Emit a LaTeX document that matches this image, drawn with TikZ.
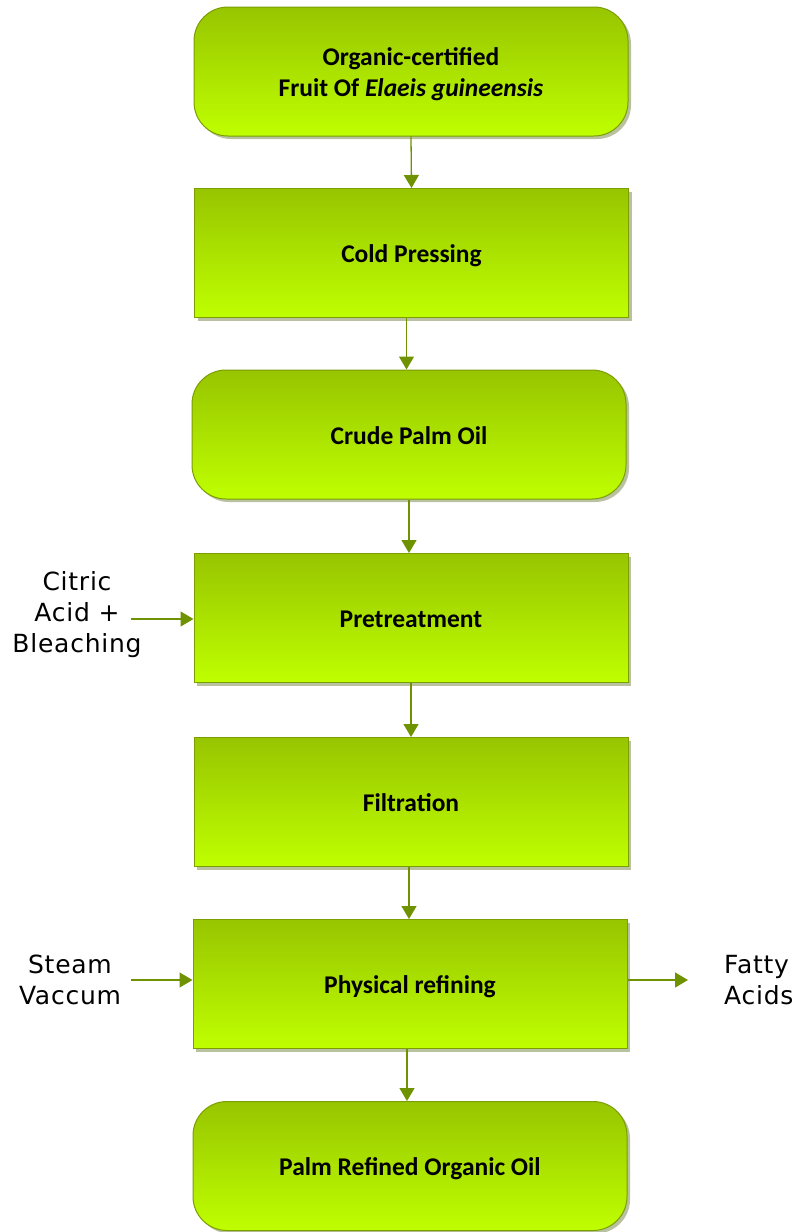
\documentclass[tikz,border=0pt]{standalone}
\usepackage{fontspec}
\setmainfont{Carlito}
\newfontfamily\lblfont[LetterSpace=3]{DejaVu Sans}
\usetikzlibrary{arrows.meta,shadows}
\definecolor{boxtop}{HTML}{97C500}
\definecolor{boxbot}{HTML}{BFFF00}
\definecolor{boxline}{HTML}{7C9E00}
\definecolor{arrowc}{HTML}{6F9300}
\definecolor{shadowc}{HTML}{9AA878}
\newcommand{\dn}[1]{\raisebox{-3.5pt}[\height][\depth]{\begin{tabular}{@{}c@{}}#1\end{tabular}}}
\tikzset{
  base/.style={draw=boxline, line width=1pt, top color=boxtop, bottom color=boxbot,
    minimum width=434pt, minimum height=129pt, align=center,
    font=\fontsize{25.5}{31}\selectfont\bfseries,
    drop shadow={shadow xshift=3pt, shadow yshift=-3pt, fill=shadowc, opacity=0.7}},
  rbox/.style={base, rounded corners=34pt},
  sbox/.style={base},
  conn/.style={draw=arrowc, line width=1.3pt, -{Triangle[width=15pt,length=13pt,fill=arrowc]}},
  lbl/.style={font=\lblfont\fontsize{25}{31}\selectfont, align=center, inner sep=0pt},
}
\begin{document}
\begin{tikzpicture}[x=1pt,y=-1pt]
\useasboundingbox[fill=white] (0,0) rectangle (799,1232);
\node[rbox] (b1) at (411,71.5) {\dn{Organic-certified\\Fruit Of \textit{Elaeis guineensis}}};
\node[sbox] (b2) at (411.5,253) {\dn{Cold Pressing}};
\node[rbox] (b3) at (409,434.5) {\dn{Crude Palm Oil}};
\node[sbox] (b4) at (411,618) {\dn{Pretreatment}};
\node[sbox] (b5) at (411,802) {\dn{Filtration}};
\node[sbox] (b6) at (410,984) {\dn{Physical refining}};
\node[rbox] (b7) at (410,1166) {\dn{Palm Refined Organic Oil}};
\draw[conn] (b1.south) -- (b2.north);
\draw[conn] ([xshift=-5pt]b2.south) -- ([xshift=-5pt]b2.south |- b3.north);
\draw[conn] (b3.south) -- (b4.north -| b3.south);
\draw[conn] (b4.south) -- (b5.north);
\draw[conn] ([xshift=-2pt]b5.south) -- ([xshift=-2pt]b5.south |- b6.north);
\draw[conn] ([xshift=-3pt]b6.south) -- ([xshift=-3pt]b6.south |- b7.north);
\node[lbl] (citric) at (77,615) {Citric\\Acid +\\Bleaching};
\node[lbl] (steam) at (70,980) {Steam\\Vaccum};
\node[lbl, align=left, anchor=west] (fatty) at (724,980) {Fatty\\Acids};
\coordinate (cin) at (131,619);
\coordinate (sin) at (131,980);
\coordinate (fout) at (688,980);
\draw[conn] (cin) -- (cin -| b4.west);
\draw[conn] (sin) -- (sin -| b6.west);
\draw[conn] (fout -| b6.east) -- (fout);
\end{tikzpicture}
\end{document}
